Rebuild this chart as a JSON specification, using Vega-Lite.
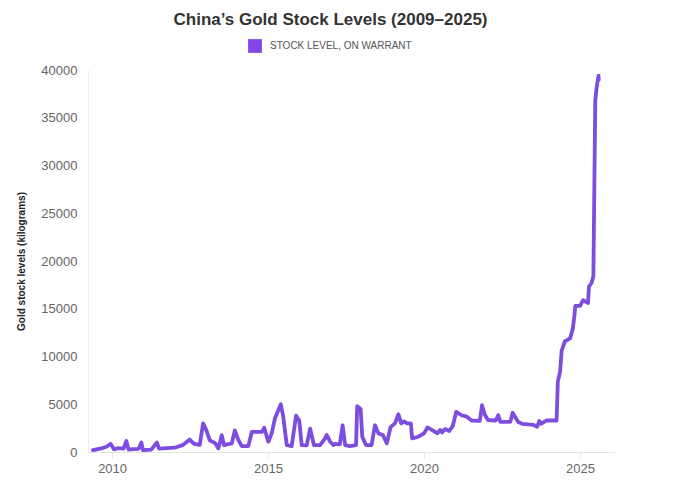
{
  "$schema": "https://vega.github.io/schema/vega-lite/v6.json",
  "width": 527,
  "height": 382,
  "autosize": "none",
  "padding": {"left": 88, "top": 70, "right": 65, "bottom": 37},
  "background": "white",
  "config": {
    "font": "Liberation Sans",
    "view": {"stroke": null}
  },
  "title": {
    "text": "China’s Gold Stock Levels (2009–2025)",
    "fontSize": 17,
    "fontWeight": "bold",
    "color": "#333333",
    "anchor": "middle",
    "frame": "group",
    "dx": -21,
    "offset": 10
  },
  "data": {
    "values": [
      {"date": "2009-05-22", "kg": 200},
      {"date": "2009-08-29", "kg": 380},
      {"date": "2009-10-27", "kg": 550},
      {"date": "2009-12-16", "kg": 850},
      {"date": "2010-01-23", "kg": 280},
      {"date": "2010-03-15", "kg": 400},
      {"date": "2010-05-15", "kg": 350},
      {"date": "2010-06-17", "kg": 1150},
      {"date": "2010-07-13", "kg": 250},
      {"date": "2010-09-02", "kg": 300},
      {"date": "2010-11-07", "kg": 330},
      {"date": "2010-12-10", "kg": 1000},
      {"date": "2010-12-28", "kg": 200},
      {"date": "2011-04-05", "kg": 250},
      {"date": "2011-06-10", "kg": 1000},
      {"date": "2011-07-05", "kg": 350},
      {"date": "2012-01-05", "kg": 450},
      {"date": "2012-04-12", "kg": 750},
      {"date": "2012-06-28", "kg": 1300},
      {"date": "2012-08-18", "kg": 850},
      {"date": "2012-10-23", "kg": 750},
      {"date": "2012-12-02", "kg": 3000},
      {"date": "2013-01-08", "kg": 2300},
      {"date": "2013-02-20", "kg": 1200},
      {"date": "2013-04-20", "kg": 950},
      {"date": "2013-05-30", "kg": 380},
      {"date": "2013-07-08", "kg": 1750},
      {"date": "2013-08-03", "kg": 730},
      {"date": "2013-11-02", "kg": 900},
      {"date": "2013-12-08", "kg": 2250},
      {"date": "2014-01-19", "kg": 1250},
      {"date": "2014-02-28", "kg": 620},
      {"date": "2014-05-15", "kg": 620},
      {"date": "2014-06-25", "kg": 2100},
      {"date": "2014-10-20", "kg": 2100},
      {"date": "2014-11-18", "kg": 2550},
      {"date": "2015-01-04", "kg": 1080},
      {"date": "2015-02-13", "kg": 1950},
      {"date": "2015-03-22", "kg": 3500},
      {"date": "2015-05-30", "kg": 5000},
      {"date": "2015-06-28", "kg": 3700},
      {"date": "2015-08-08", "kg": 730},
      {"date": "2015-10-05", "kg": 620},
      {"date": "2015-11-25", "kg": 3800},
      {"date": "2016-01-01", "kg": 3300},
      {"date": "2016-01-30", "kg": 730},
      {"date": "2016-03-28", "kg": 700},
      {"date": "2016-05-08", "kg": 2450},
      {"date": "2016-06-21", "kg": 730},
      {"date": "2016-09-02", "kg": 730},
      {"date": "2016-10-30", "kg": 1430},
      {"date": "2016-11-17", "kg": 1780},
      {"date": "2016-12-28", "kg": 1080},
      {"date": "2017-02-03", "kg": 730},
      {"date": "2017-02-25", "kg": 850},
      {"date": "2017-04-20", "kg": 800},
      {"date": "2017-05-23", "kg": 2800},
      {"date": "2017-06-21", "kg": 730},
      {"date": "2017-08-18", "kg": 620},
      {"date": "2017-10-27", "kg": 730},
      {"date": "2017-11-10", "kg": 4800},
      {"date": "2017-12-20", "kg": 4500},
      {"date": "2018-01-08", "kg": 1600},
      {"date": "2018-02-21", "kg": 730},
      {"date": "2018-04-27", "kg": 730},
      {"date": "2018-06-06", "kg": 2800},
      {"date": "2018-07-16", "kg": 1950},
      {"date": "2018-09-06", "kg": 1780},
      {"date": "2018-10-23", "kg": 900},
      {"date": "2018-12-05", "kg": 2600},
      {"date": "2019-01-26", "kg": 3000},
      {"date": "2019-03-07", "kg": 3950},
      {"date": "2019-04-09", "kg": 3000},
      {"date": "2019-05-12", "kg": 3200},
      {"date": "2019-06-18", "kg": 3000},
      {"date": "2019-07-31", "kg": 3000},
      {"date": "2019-08-15", "kg": 1430},
      {"date": "2019-10-27", "kg": 1600},
      {"date": "2020-01-01", "kg": 1950},
      {"date": "2020-02-10", "kg": 2570},
      {"date": "2020-04-20", "kg": 2220},
      {"date": "2020-06-06", "kg": 1950},
      {"date": "2020-07-08", "kg": 2300},
      {"date": "2020-07-30", "kg": 2050},
      {"date": "2020-09-02", "kg": 2400},
      {"date": "2020-10-23", "kg": 2200},
      {"date": "2020-12-02", "kg": 2700},
      {"date": "2021-01-12", "kg": 4200},
      {"date": "2021-03-15", "kg": 3850},
      {"date": "2021-05-15", "kg": 3700},
      {"date": "2021-07-12", "kg": 3300},
      {"date": "2021-10-15", "kg": 3250},
      {"date": "2021-11-10", "kg": 4900},
      {"date": "2021-12-13", "kg": 3900},
      {"date": "2022-01-19", "kg": 3350},
      {"date": "2022-04-20", "kg": 3300},
      {"date": "2022-05-19", "kg": 3850},
      {"date": "2022-06-13", "kg": 3150},
      {"date": "2022-10-08", "kg": 3150},
      {"date": "2022-11-03", "kg": 4100},
      {"date": "2023-01-08", "kg": 3150},
      {"date": "2023-02-25", "kg": 2950},
      {"date": "2023-07-02", "kg": 2850},
      {"date": "2023-08-18", "kg": 2650},
      {"date": "2023-09-12", "kg": 3250},
      {"date": "2023-10-01", "kg": 2950},
      {"date": "2023-12-05", "kg": 3300},
      {"date": "2024-04-01", "kg": 3300},
      {"date": "2024-04-16", "kg": 7400},
      {"date": "2024-05-12", "kg": 8400},
      {"date": "2024-05-30", "kg": 10600},
      {"date": "2024-07-08", "kg": 11600},
      {"date": "2024-09-06", "kg": 11900},
      {"date": "2024-10-08", "kg": 12900},
      {"date": "2024-10-27", "kg": 14300},
      {"date": "2024-11-06", "kg": 15300},
      {"date": "2025-01-01", "kg": 15300},
      {"date": "2025-02-06", "kg": 15900},
      {"date": "2025-04-04", "kg": 15600},
      {"date": "2025-04-15", "kg": 17300},
      {"date": "2025-05-15", "kg": 17700},
      {"date": "2025-06-06", "kg": 18400},
      {"date": "2025-06-28", "kg": 36800},
      {"date": "2025-07-13", "kg": 38100},
      {"date": "2025-08-05", "kg": 39400},
      {"date": "2025-08-08", "kg": 39000}
    ]
  },
  "mark": {"type": "line", "strokeWidth": 3.8, "strokeJoin": "round", "strokeCap": "round"},
  "encoding": {
    "x": {
      "field": "date",
      "type": "temporal",
      "scale": {"domain": ["2009-03-25", "2026-02-14"], "nice": false},
      "axis": {
        "title": null,
        "values": [{"year": 2010}, {"year": 2015}, {"year": 2020}, {"year": 2025}],
        "format": "%Y",
        "grid": false,
        "labelFontSize": 13,
        "labelColor": "#666666",
        "labelPadding": 4,
        "tickSize": 6,
        "tickColor": "#e3e3e3",
        "domainColor": "#e3e3e3",
        "labelFlush": false
      }
    },
    "y": {
      "field": "kg",
      "type": "quantitative",
      "scale": {"domain": [0, 40000], "nice": false},
      "axis": {
        "title": "Gold stock levels (kilograms)",
        "titleFontSize": 10,
        "titleFontWeight": "bold",
        "titleColor": "#222222",
        "titlePadding": 14,
        "values": [0, 5000, 10000, 15000, 20000, 25000, 30000, 35000, 40000],
        "format": "d",
        "grid": false,
        "ticks": false,
        "labelPadding": 11,
        "labelFontSize": 13,
        "labelColor": "#666666",
        "domainColor": "#ececec"
      }
    },
    "color": {
      "datum": "STOCK LEVEL, ON WARRANT",
      "type": "nominal",
      "scale": {"range": ["#7c4ddf"]},
      "legend": {
        "orient": "none",
        "legendX": 160,
        "legendY": -31,
        "title": null,
        "padding": 0,
        "symbolType": "square",
        "symbolSize": 190,
        "labelFontSize": 10,
        "labelColor": "#555555",
        "labelOffset": 8,
        "encode": {
          "symbols": {
            "update": {
              "fill": {"value": "#8447e6"},
              "stroke": {"value": "#8447e6"},
              "strokeWidth": {"value": 0}
            }
          }
        }
      }
    }
  }
}
